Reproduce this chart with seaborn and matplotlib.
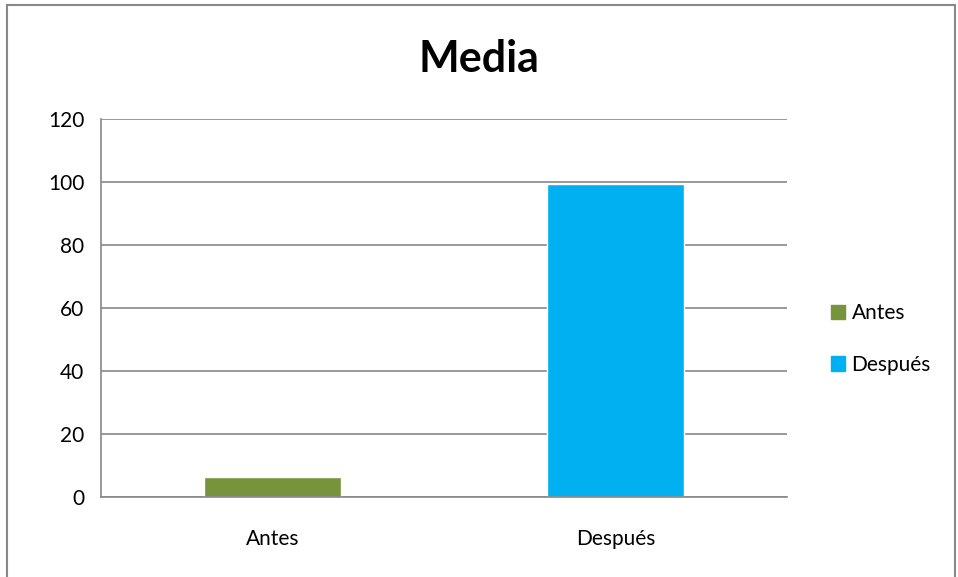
import seaborn as sns
import pandas as pd
import matplotlib.pyplot as plt
from matplotlib.patches import Rectangle

categories = ['Antes', 'Después']
values = [6.3, 99.5]
colors = ['#77933C', '#00B0F0']
y_ticks = [0, 20, 40, 60, 80, 100, 120]

sns.set_style('white')
plt.rcParams['font.family'] = ['Lato', 'DejaVu Sans']
plt.rcParams['text.color'] = 'black'
plt.rcParams['xtick.color'] = 'black'
plt.rcParams['ytick.color'] = 'black'

df = pd.DataFrame({'Grupo': categories, 'Media': values})

fig = plt.figure(figsize=(9.58, 5.77), dpi=100)
ax = fig.add_axes([101 / 958, 80 / 577, 686 / 958, 378 / 577])

sns.barplot(data=df, x='Grupo', y='Media', hue='Grupo', palette=colors,
            dodge=False, width=0.4, legend=False, ax=ax, saturation=1)

ax.set_ylim(0, 120)
ax.set_xlim(-0.5, 1.5)
ax.set_yticks(y_ticks)
ax.set_yticklabels([str(t) for t in y_ticks])
# category boundaries get the tick marks, labels sit at the bar centres
ax.set_xticks([-0.5, 0.5, 1.5], minor=False)
ax.set_xticklabels([])
ax.set_xticks([0, 1], minor=True)
ax.set_xticklabels(categories, minor=True)
ax.tick_params(axis='x', which='minor', length=0, pad=23, labelsize=15,
               labelcolor='black')
ax.tick_params(axis='x', which='major', length=6, color='#888888', width=1.2)
ax.tick_params(axis='y', length=6, color='#888888', width=1.2, labelsize=15,
               pad=6, labelcolor='black')
ax.set_xlabel('')
ax.set_ylabel('')

ax.yaxis.grid(True, color='#888888', linewidth=1.2)
ax.set_axisbelow(True)
for s in ['top', 'right']:
    ax.spines[s].set_visible(False)
for s in ['left', 'bottom']:
    ax.spines[s].set_color('#888888')
    ax.spines[s].set_linewidth(1.2)

fig.text(0.5, 1 - 59 / 577, 'Media', ha='center', va='center',
         fontsize=31, fontweight='bold', color='black')

handles = [Rectangle((0, 0), 1, 1, color=c) for c in colors]
fig.legend(handles, categories, loc='center left',
           bbox_to_anchor=(812 / 958, 1 - 339 / 577), frameon=False,
           fontsize=15, handlelength=0.7, handleheight=0.7,
           handletextpad=0.3, labelspacing=1.5, labelcolor='black')

# chart-area frame, bottom edge falls outside the image
fig.add_artist(Rectangle((7 / 958, -10 / 577), 948 / 958, 582 / 577,
                         transform=fig.transFigure, fill=False,
                         edgecolor='#888888', linewidth=1.5))

fig.savefig('out.png', dpi=100)
